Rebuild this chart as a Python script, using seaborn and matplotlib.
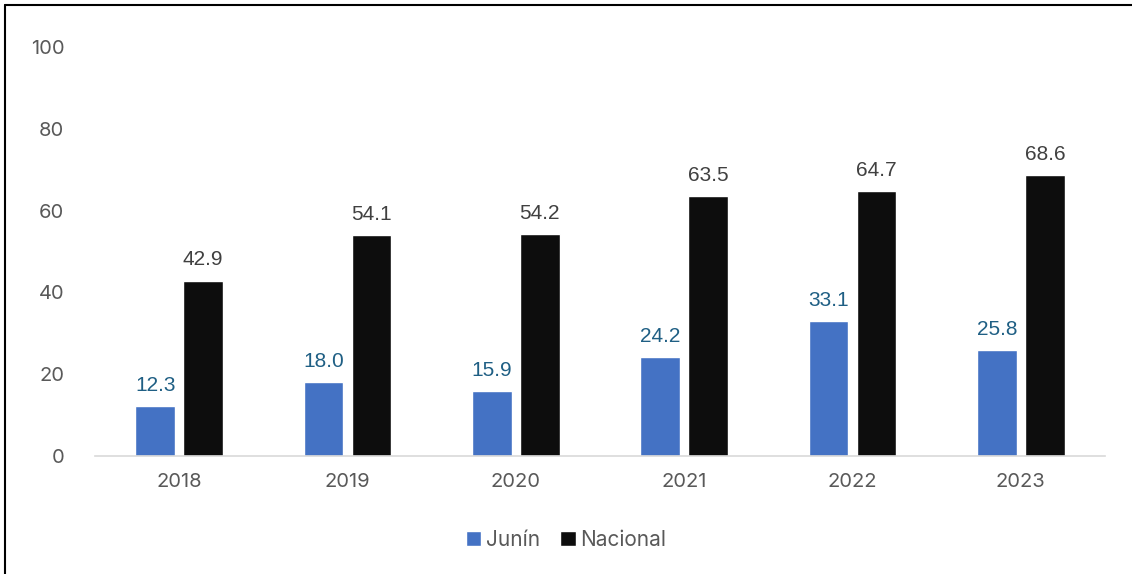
import matplotlib
matplotlib.use("Agg")
import matplotlib.pyplot as plt
import seaborn as sns
import pandas as pd
from matplotlib.lines import Line2D
from matplotlib.patches import Patch

years = ["2018", "2019", "2020", "2021", "2022", "2023"]
junin = [12.3, 18.0, 15.9, 24.2, 33.1, 25.8]
nacional = [42.9, 54.1, 54.2, 63.5, 64.7, 68.6]
series = ["Junín", "Nacional"]
colors = {"Junín": "#4472C4", "Nacional": "#0D0D0D"}
label_colors = {"Junín": "#1F5F84", "Nacional": "#404040"}

df = pd.DataFrame({
    "year": years * 2,
    "value": junin + nacional,
    "serie": [series[0]] * len(years) + [series[1]] * len(years),
})

sns.set_style("white")
plt.rcParams["font.family"] = ["Inter", "DejaVu Sans"]

fig = plt.figure(figsize=(11.32, 5.74), dpi=100)
ax = fig.add_axes([95 / 1132, 1 - 456 / 574, 1010 / 1132, 409 / 574])

sns.barplot(data=df, x="year", y="value", hue="serie", palette=colors,
            width=0.57, gap=0.17, ax=ax, legend=False, saturation=1)

# value labels above the bars
for cont, name in zip(ax.containers, series):
    labels = ax.bar_label(cont, fmt="%.1f", padding=8, fontsize=15,
                          color=label_colors[name])
    for t in labels:
        t.set_family(["Liberation Sans", "DejaVu Sans"])

ax.set_xlim(-0.5, 5.5)
ax.set_ylim(0, 100)
ax.set_yticks(range(0, 101, 20))
ax.set_xlabel("")
ax.set_ylabel("")
for s in ["top", "right", "left"]:
    ax.spines[s].set_visible(False)
ax.spines["bottom"].set_color("#D9D9D9")
ax.spines["bottom"].set_linewidth(1.2)
ax.tick_params(axis="both", length=0, labelsize=14.5, labelcolor="#595959")
ax.tick_params(axis="x", pad=12)
ax.tick_params(axis="y", pad=22)

handles = [Patch(facecolor=colors[s], label=s) for s in series]
fig.legend(handles=handles, loc="center", bbox_to_anchor=(0.5, 1 - 540 / 574),
           ncol=2, frameon=False, fontsize=15, handlelength=0.75, handleheight=0.75,
           handletextpad=0.2, columnspacing=1.0, labelcolor="#595959")

# outer frame (cut at right and bottom)
fig.add_artist(Line2D([5 / 1132, 5 / 1132], [0, 1 - 5 / 574], color="black",
                      lw=1.5, transform=fig.transFigure))
fig.add_artist(Line2D([5 / 1132, 1], [1 - 5 / 574, 1 - 5 / 574], color="black",
                      lw=1.5, transform=fig.transFigure))

fig.savefig("out.png", dpi=100)
